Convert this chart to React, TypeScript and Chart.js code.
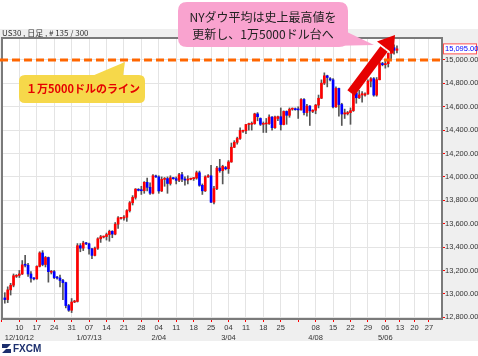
import { useEffect, useRef } from 'react';
import { Chart, registerables } from 'chart.js';

Chart.register(...registerables);

// ---- data (daily candles, one slot per trading bar incl. Sunday bars) ----
const firstSlot = 2;
const opens = [
  12965, 12951, 13034, 13074,
  13150, 13158, 13170, 13248, 13245, 13170,
  13130, 13128, 13235, 13350, 13251, 13311,
  13185, 13190, 13139, 13135, 13114, 13096,
  12900, 12860, 12930, 12935, 13412, 13391,
  13430, 13428, 13385, 13329, 13390, 13471,
  13485, 13490, 13507, 13535, 13511, 13596,
  13645, 13648, 13655, 13712, 13779, 13825,
  13890, 13885, 13882, 13954, 13911, 13861,
  14005, 14000, 13880, 13979, 13986, 13944,
  13990, 13985, 13971, 14019, 13982, 13973,
  13980, 13985, 13990, 14036, 13928, 13881,
  14000, 14010, 13784, 13900, 14076, 14054,
  14080, 14070, 14128, 14254, 14296, 14329,
  14390, 14395, 14448, 14450, 14456, 14539,
  14500, 14450, 14453, 14456, 14512, 14421,
  14500, 14515, 14448, 14560, 14527, 14579,
  14580, 14575, 14573, 14662, 14550, 14606,
  14560, 14570, 14614, 14673, 14802, 14865,
  14840, 14830, 14599, 14757, 14619, 14538,
  14540, 14550, 14567, 14719, 14677, 14701,
  14700, 14710, 14819, 14840, 14700, 14831,
  14970, 14960, 14969, 15056, 15105, 15083,
];
const highs = [
  13010, 13060, 13090, 13170,
  13165, 13200, 13285, 13330, 13260, 13190,
  13140, 13240, 13360, 13370, 13320, 13315,
  13200, 13200, 13150, 13160, 13125, 13100,
  12910, 12960, 12945, 13430, 13430, 13450,
  13440, 13435, 13390, 13400, 13480, 13500,
  13495, 13520, 13545, 13540, 13610, 13660,
  13655, 13670, 13720, 13790, 13840, 13900,
  13900, 13920, 13960, 13990, 13950, 14020,
  14015, 14010, 14000, 13995, 14000, 14010,
  13995, 14000, 14030, 14040, 14000, 14010,
  13990, 13995, 14050, 14050, 13940, 14010,
  14020, 14100, 13920, 14090, 14150, 14100,
  14090, 14140, 14290, 14310, 14340, 14420,
  14400, 14450, 14460, 14470, 14545, 14550,
  14505, 14470, 14500, 14530, 14515, 14520,
  14520, 14590, 14565, 14565, 14590, 14590,
  14590, 14600, 14670, 14670, 14620, 14610,
  14575, 14620, 14700, 14830, 14890, 14870,
  14850, 14840, 14770, 14760, 14630, 14580,
  14560, 14590, 14740, 14730, 14740, 14730,
  14720, 14830, 14850, 14850, 14850, 15010,
  14980, 14990, 15060, 15110, 15130, 15120,
];
const lows = [
  12920, 12925, 12990, 13060,
  13140, 13140, 13165, 13230, 13150, 13100,
  13120, 13125, 13230, 13240, 13230, 13100,
  13170, 13130, 13125, 13060, 12950, 12880,
  12850, 12840, 12925, 12930, 13360, 13370,
  13420, 13340, 13300, 13325, 13380, 13440,
  13478, 13460, 13450, 13480, 13505, 13560,
  13638, 13630, 13620, 13700, 13760, 13810,
  13880, 13850, 13860, 13880, 13850, 13855,
  13995, 13860, 13875, 13920, 13860, 13930,
  13980, 13940, 13960, 13960, 13930, 13940,
  13975, 13970, 13980, 13920, 13850, 13875,
  13995, 13780, 13770, 13890, 14040, 13940,
  14060, 14030, 14125, 14250, 14280, 14320,
  14380, 14370, 14400, 14400, 14450, 14480,
  14440, 14380, 14380, 14450, 14400, 14415,
  14480, 14400, 14445, 14450, 14510, 14570,
  14570, 14500, 14570, 14530, 14520, 14440,
  14550, 14540, 14590, 14670, 14790, 14770,
  14820, 14590, 14595, 14520, 14440, 14500,
  14530, 14450, 14560, 14630, 14670, 14640,
  14690, 14705, 14770, 14690, 14690, 14830,
  14950, 14930, 14940, 15000, 15050, 15060,
];
const closes = [
  12951, 13034, 13074, 13155,
  13158, 13170, 13248, 13245, 13170, 13135,
  13128, 13235, 13350, 13251, 13311, 13190,
  13190, 13139, 13135, 13114, 13096, 12900,
  12860, 12930, 12935, 13412, 13391, 13435,
  13428, 13385, 13329, 13390, 13471, 13488,
  13490, 13507, 13535, 13511, 13596, 13650,
  13648, 13655, 13712, 13779, 13825, 13896,
  13885, 13882, 13954, 13911, 13861, 14010,
  14000, 13880, 13979, 13986, 13944, 13993,
  13985, 13971, 14019, 13982, 13973, 13982,
  13985, 13990, 14036, 13928, 13881, 14001,
  14010, 13784, 13900, 14076, 14054, 14090,
  14070, 14128, 14254, 14296, 14329, 14397,
  14395, 14448, 14450, 14456, 14539, 14515,
  14450, 14453, 14456, 14512, 14421, 14512,
  14515, 14448, 14560, 14527, 14579, 14582,
  14575, 14573, 14662, 14550, 14606, 14565,
  14570, 14614, 14673, 14802, 14865, 14850,
  14830, 14599, 14757, 14619, 14538, 14548,
  14550, 14567, 14719, 14677, 14701, 14712,
  14710, 14819, 14840, 14700, 14831, 14974,
  14960, 14969, 15056, 15105, 15083, 15095,
];

// weekly axis ticks (slot positions of Mondays)
const tickSlots = [1, 7, 13, 19, 25, 31, 37, 43, 49, 55, 61, 67, 73, 79, 85, 91, 97, 103, 109, 115, 121, 127, 133, 138, 143, 148];
const tickDays = ['', '10', '17', '24', '31', '07', '14', '21', '28', '04', '11', '18', '25', '04', '11', '18', '25', '', '08', '15', '22', '29', '06', '13', '20', '27'];
const tickMonths = ['', '12/10/12', '', '', '', '1/07/13', '', '', '', '2/04', '', '', '', '3/04', '', '', '', '', '4/08', '', '', '', '5/06', '', '', ''];
const yTicks = [12800, 13000, 13200, 13400, 13600, 13800, 14000, 14200, 14400, 14600, 14800, 15000];
const lineLevel = 15000;

const FONT = '"Liberation Sans", Arial, sans-serif';
const JP = '"Noto Sans CJK JP", "Liberation Sans", sans-serif';

const fmt = (v: number) => v.toLocaleString('en-US', { minimumFractionDigits: 2, maximumFractionDigits: 2 });

function roundRect(ctx: CanvasRenderingContext2D, x: number, y: number, w: number, h: number, r: number) {
  ctx.moveTo(x + r, y);
  ctx.lineTo(x + w - r, y);
  ctx.quadraticCurveTo(x + w, y, x + w, y + r);
  ctx.lineTo(x + w, y + h - r);
  ctx.quadraticCurveTo(x + w, y + h, x + w - r, y + h);
  ctx.lineTo(x + r, y + h);
  ctx.quadraticCurveTo(x, y + h, x, y + h - r);
  ctx.lineTo(x, y + r);
  ctx.quadraticCurveTo(x, y, x + r, y);
  ctx.closePath();
}

const decorPlugin = {
  id: 'decor',
  beforeDraw(chart: any) {
    const { ctx, chartArea: a } = chart;
    ctx.save();
    ctx.fillStyle = '#ffffff';
    ctx.fillRect(0, 0, 478, 356);
    ctx.fillStyle = '#efefef';
    ctx.fillRect(0, 29, 478, 312);
    ctx.fillStyle = '#ffffff';
    ctx.fillRect(a.left, a.top, a.right - a.left, a.bottom - a.top);
    ctx.fillStyle = '#333333';
    ctx.font = '8px ' + JP;
    ctx.textBaseline = 'middle';
    ctx.fillText('US30 , 日足 , # 135 / 300', 2, 33);
    ctx.restore();
  },
  afterDraw(chart: any) {
    const { ctx, chartArea: a, scales } = chart;
    const ys = scales.y;
    ctx.save();
    // plot border
    ctx.strokeStyle = '#7a7a7a';
    ctx.lineWidth = 2;
    ctx.strokeRect(a.left, a.top, a.right - a.left, a.bottom - a.top);

    // 15,000 dashed line
    const yl = ys.getPixelForValue(lineLevel);
    ctx.strokeStyle = '#ff6600';
    ctx.lineWidth = 3;
    ctx.setLineDash([8, 4]);
    ctx.beginPath();
    ctx.moveTo(0, yl);
    ctx.lineTo(a.right, yl);
    ctx.stroke();
    ctx.setLineDash([]);

    // current price label
    const last = closes[closes.length - 1];
    const yp = ys.getPixelForValue(last);
    ctx.fillStyle = '#ffffff';
    ctx.fillRect(443.5, yp - 5, 33, 10);
    ctx.strokeStyle = '#ff5050';
    ctx.lineWidth = 1;
    ctx.strokeRect(443.5, yp - 5, 33, 10);
    ctx.fillStyle = '#0000ff';
    ctx.font = '7.5px ' + FONT;
    ctx.textBaseline = 'middle';
    ctx.fillText(fmt(last), 445, yp + 0.5);

    // yellow callout
    ctx.fillStyle = '#f6d84a';
    ctx.beginPath();
    roundRect(ctx, 19, 75, 126, 28, 6);
    ctx.fill();
    ctx.beginPath();
    ctx.moveTo(92, 76);
    ctx.lineTo(125, 62);
    ctx.lineTo(123, 76);
    ctx.closePath();
    ctx.fill();
    ctx.fillStyle = '#e60000';
    ctx.font = 'bold 11px ' + JP;
    ctx.textAlign = 'center';
    ctx.textBaseline = 'middle';
    ctx.fillText('１万5000ドルのライン', 83, 89);

    // pink callout
    ctx.fillStyle = '#f9a3cf';
    ctx.beginPath();
    roundRect(ctx, 178, 2, 170, 45, 9);
    ctx.fill();
    ctx.beginPath();
    ctx.moveTo(328, 46);
    ctx.lineTo(347, 32);
    ctx.lineTo(374, 45);
    ctx.closePath();
    ctx.fill();
    ctx.fillStyle = '#222222';
    ctx.font = '12px ' + JP;
    ctx.fillText('NYダウ平均は史上最高値を', 263, 17);
    ctx.fillText('更新し、1万5000ドル台へ', 263, 34);

    // red arrow
    ctx.strokeStyle = '#e60000';
    ctx.fillStyle = '#e60000';
    ctx.lineWidth = 9;
    ctx.beginPath();
    ctx.moveTo(351, 93);
    ctx.lineTo(384, 49);
    ctx.stroke();
    ctx.beginPath();
    ctx.moveTo(395, 35);
    ctx.lineTo(393.5, 54);
    ctx.lineTo(377, 41.5);
    ctx.closePath();
    ctx.fill();

    // logo
    ctx.textAlign = 'left';
    ctx.fillStyle = '#1c2f6e';
    ctx.beginPath();
    ctx.moveTo(2, 344); ctx.lineTo(11, 344); ctx.lineTo(6, 349); ctx.lineTo(11, 349);
    ctx.lineTo(11, 353); ctx.lineTo(2, 353); ctx.lineTo(7, 348); ctx.lineTo(2, 348);
    ctx.closePath();
    ctx.fill();
    ctx.font = 'bold 10px ' + FONT;
    ctx.fillText('FXCM', 13, 349);
    ctx.restore();
  },
};

export default function App() {
  const ref = useRef<HTMLCanvasElement>(null);
  useEffect(() => {
    const bodies = opens.map((o, i) => ({ x: firstSlot + i, y: [o, closes[i]] }));
    const wicks = opens.map((o, i) => ({ x: firstSlot + i, y: [lows[i], highs[i]] }));
    const chart = new Chart(ref.current as HTMLCanvasElement, {
      type: 'bar',
      data: {
        datasets: [
          {
            data: bodies as any,
            backgroundColor: opens.map((o, i) => (closes[i] >= o ? '#ff0000' : '#0000ff')),
            barThickness: 2,
            minBarLength: 1,
            grouped: false,
          } as any,
          {
            data: wicks as any,
            backgroundColor: '#555555',
            barThickness: 1,
            grouped: false,
          } as any,
        ],
      },
      options: {
        responsive: false,
        animation: false,
        devicePixelRatio: 1,
        layout: { padding: { left: 2, top: 38, right: 0, bottom: 15 } },
        plugins: { legend: { display: false }, tooltip: { enabled: false } },
        scales: {
          x: {
            type: 'linear',
            min: 1.03,
            max: 152.5,
            offset: false,
            grid: { offset: false, color: '#e4e4e4', tickColor: '#ff0000', tickLength: 3 },
            border: { display: false },
            ticks: {
              autoSkip: false,
              maxRotation: 0,
              padding: 1,
              color: '#333333',
              font: { size: 7.5, family: FONT, lineHeight: 1.3 },
              callback: (v: any) => {
                const i = tickSlots.indexOf(Number(v));
                if (i < 0) return '';
                return tickMonths[i] ? [tickDays[i], tickMonths[i]] : tickDays[i];
              },
            },
            afterBuildTicks: (s: any) => {
              s.ticks = tickSlots.map((v) => ({ value: v }));
            },
            afterFit: (s: any) => {
              s.height = 22;
            },
          } as any,
          y: {
            position: 'right',
            min: 12785,
            max: 15188,
            grid: { color: '#e4e4e4', tickColor: '#ff0000', tickLength: 3 },
            border: { display: false },
            ticks: {
              padding: 0,
              color: '#333333',
              font: { size: 7.5, family: FONT },
              callback: (v: any) => fmt(Number(v)),
            },
            afterBuildTicks: (s: any) => {
              s.ticks = yTicks.map((v) => ({ value: v }));
            },
            afterFit: (s: any) => {
              s.width = 36;
            },
          } as any,
        },
      },
      plugins: [decorPlugin],
    });
    return () => chart.destroy();
  }, []);
  return (
    <div style={{ position: 'absolute', left: 0, top: 0, width: 478, height: 356 }}>
      <canvas ref={ref} width={478} height={356} style={{ display: 'block', width: 478, height: 356 }} />
    </div>
  );
}
